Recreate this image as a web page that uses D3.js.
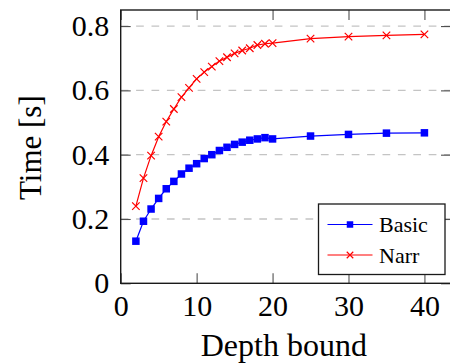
<!DOCTYPE html>
<html>
<head>
<meta charset="utf-8">
<script src="https://cdn.jsdelivr.net/npm/d3@7"></script>
<style>
  html, body { margin: 0; padding: 0; background: #fff; }
  svg text { font-family: "Liberation Serif", "DejaVu Serif", serif; fill: #000; }
</style>
</head>
<body>
<div id="chart"></div>
<script>
// depth bound values on the x axis
var depths = [2, 3, 4, 5, 6, 7, 8, 9, 10, 11, 12, 13, 14, 15, 16, 17, 18, 19, 20, 25, 30, 35, 40];
// time in seconds
var basicTimes = [0.131, 0.193, 0.231, 0.264, 0.294, 0.317, 0.340, 0.358, 0.372, 0.388, 0.400, 0.413, 0.423,
                  0.432, 0.439, 0.445, 0.449, 0.453, 0.449, 0.458, 0.463, 0.467, 0.468];
var narrTimes = [0.240, 0.327, 0.397, 0.456, 0.503, 0.542, 0.579, 0.608, 0.636, 0.657, 0.674, 0.691, 0.703,
                 0.715, 0.724, 0.731, 0.741, 0.745, 0.747, 0.761, 0.767, 0.771, 0.774];
var seriesNames = ["Basic", "Narr"];
var xTicks = [0, 10, 20, 30, 40];
var yTicks = [0, 0.2, 0.4, 0.6, 0.8];

var width = 450, height = 364;
var plotLeft = 120.7, plotRight = 451, plotTop = 10, plotBottom = 283.3;

var svg = d3.select("#chart").append("svg")
    .attr("width", width)
    .attr("height", height);

var x = d3.scaleLinear().domain([0, 43.5]).range([plotLeft, plotRight]);
var y = d3.scaleLinear().domain([0, 0.85]).range([plotBottom, plotTop]);

var series = [
  { name: seriesNames[0], values: basicTimes, color: "#0000ff", mark: "square" },
  { name: seriesNames[1], values: narrTimes, color: "#ff0000", mark: "cross" }
];

/* ------- GRID -------*/
svg.append("g").selectAll("line")
    .data(yTicks.filter(function(d){ return d > 0; }))
    .enter().append("line")
    .attr("x1", plotLeft).attr("x2", plotRight)
    .attr("y1", function(d){ return y(d); })
    .attr("y2", function(d){ return y(d); })
    .style("stroke", "#c4c4c4")
    .style("stroke-width", 1.3)
    .style("stroke-dasharray", "7.7,7.7");

/* ------- LINES AND MARKS -------*/
var line = d3.line()
    .x(function(d, i){ return x(depths[i]); })
    .y(function(d){ return y(d); });

function drawMark(g, mark, color, s) {
  if (mark === "square") {
    g.append("rect")
      .attr("x", -s / 2).attr("y", -s / 2)
      .attr("width", s).attr("height", s)
      .style("fill", color);
  } else {
    g.append("path")
      .attr("d", "M" + (-s/2) + "," + (-s/2) + "L" + (s/2) + "," + (s/2) +
                 "M" + (-s/2) + "," + (s/2) + "L" + (s/2) + "," + (-s/2))
      .style("stroke", color)
      .style("stroke-width", 1.2)
      .style("fill", "none");
  }
}

series.forEach(function(s){
  var g = svg.append("g");
  g.append("path")
    .attr("d", line(s.values))
    .style("fill", "none")
    .style("stroke", s.color)
    .style("stroke-width", 1.2);
  g.selectAll("g.mark")
    .data(s.values)
    .enter().append("g")
    .attr("class", "mark")
    .attr("transform", function(d, i){ return "translate(" + x(depths[i]) + "," + y(d) + ")"; })
    .each(function(){ drawMark(d3.select(this), s.mark, s.color, 7.5); });
});

/* ------- AXES -------*/
var fmt = function(d){ return String(d); };

var xAxis = svg.append("g")
    .attr("transform", "translate(0," + plotBottom + ")")
    .call(d3.axisBottom(x).tickValues(xTicks).tickSizeInner(-10).tickSizeOuter(0).tickPadding(11).tickFormat(fmt));
var xTop = svg.append("g")
    .attr("transform", "translate(0," + plotTop + ")")
    .call(d3.axisTop(x).tickValues(xTicks).tickSizeInner(-10).tickSizeOuter(0).tickFormat(""));
var yAxis = svg.append("g")
    .attr("transform", "translate(" + plotLeft + ",0)")
    .call(d3.axisLeft(y).tickValues(yTicks).tickSizeInner(-10).tickSizeOuter(0).tickPadding(11.4).tickFormat(fmt));
var yRight = svg.append("g")
    .attr("transform", "translate(" + plotRight + ",0)")
    .call(d3.axisRight(y).tickValues(yTicks).tickSizeInner(-10).tickSizeOuter(0).tickFormat(""));

[xAxis, xTop, yAxis, yRight].forEach(function(a){
  a.select(".domain").remove();
  a.selectAll(".tick line").style("stroke", "#505050").style("stroke-width", 1.1);
  a.selectAll(".tick text")
    .style("font-family", "'Liberation Serif', serif")
    .style("font-size", "30px")
    .style("fill", "#000");
});

svg.append("rect")
    .attr("x", plotLeft).attr("y", plotTop)
    .attr("width", plotRight - plotLeft).attr("height", plotBottom - plotTop)
    .style("fill", "none")
    .style("stroke", "#1a1a1a")
    .style("stroke-width", 1.4);

/* ------- AXIS LABELS -------*/
svg.append("text")
    .attr("x", (plotLeft + 447) / 2)
    .attr("y", 356)
    .attr("text-anchor", "middle")
    .style("font-size", "32px")
    .text("Depth bound");

svg.append("text")
    .attr("transform", "translate(41," + ((plotTop + plotBottom) / 2 + 1) + ") rotate(-90)")
    .attr("text-anchor", "middle")
    .style("font-size", "31px")
    .text("Time [s]");

/* ------- LEGEND -------*/
var legend = svg.append("g").attr("transform", "translate(318.5,204)");
legend.append("rect")
    .attr("width", 126.5).attr("height", 70.5)
    .style("fill", "#fff")
    .style("stroke", "#1a1a1a")
    .style("stroke-width", 1.3);

var item = legend.selectAll("g.item")
    .data(series)
    .enter().append("g")
    .attr("class", "item")
    .attr("transform", function(d, i){ return "translate(0," + (20.5 + i * 30.5) + ")"; });

item.append("line")
    .attr("x1", 9).attr("x2", 54)
    .style("stroke", function(d){ return d.color; })
    .style("stroke-width", 1.2);
item.append("g")
    .attr("transform", "translate(31.5,0)")
    .each(function(d){ drawMark(d3.select(this), d.mark, d.color, 6.5); });
item.append("text")
    .attr("x", 60.5)
    .attr("y", 7.5)
    .style("font-size", "22px")
    .text(function(d){ return d.name; });
</script>
</body>
</html>
